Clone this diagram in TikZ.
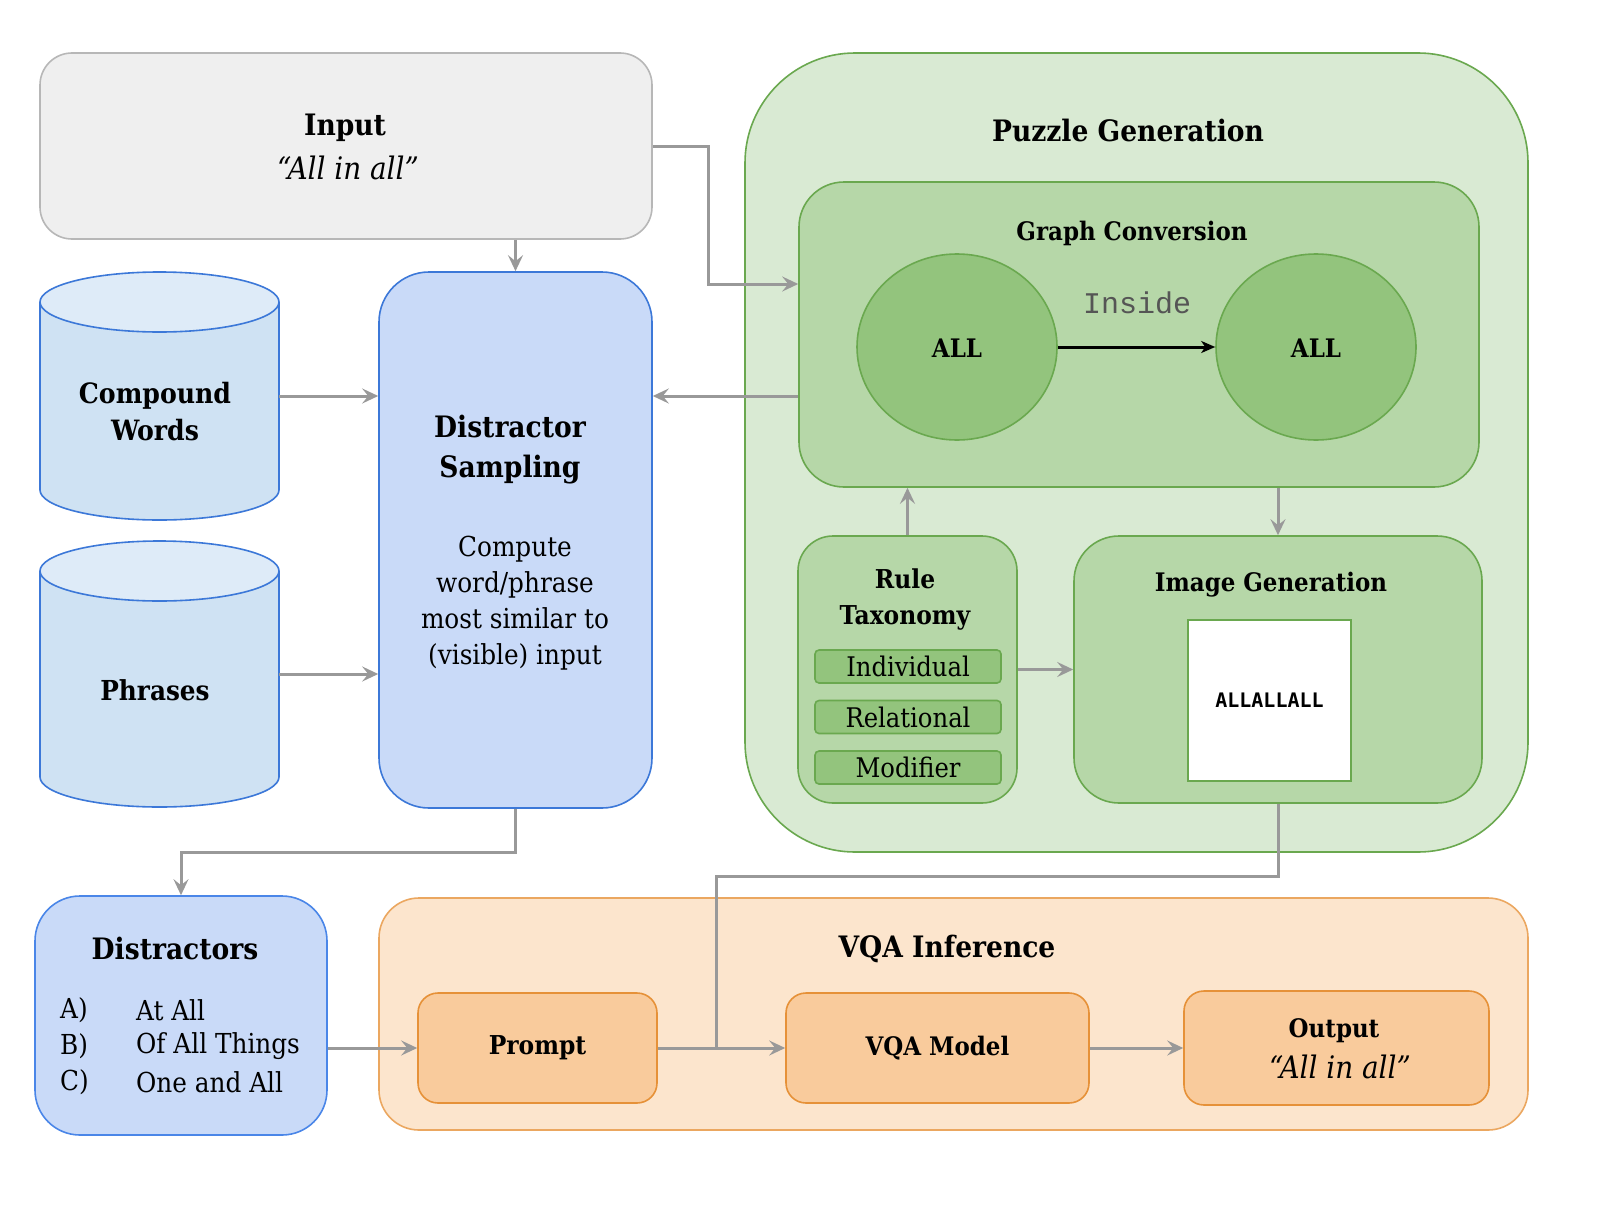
\documentclass[tikz,border=0pt]{standalone}
\usepackage{fontspec}
\setmainfont{DejaVu Serif Condensed}
\newfontfamily\monolight{Liberation Mono}
\newfontfamily\monobold{DejaVu Sans Mono}
\usetikzlibrary{arrows.meta,calc,shapes.geometric}
\definecolor{inputfill}{HTML}{EFEFEF}
\definecolor{inputline}{HTML}{B7B7B7}
\definecolor{cylbody}{HTML}{CFE2F3}
\definecolor{cyltop}{HTML}{DEEBF8}
\definecolor{blueline}{HTML}{3C78D8}
\definecolor{bluefill}{HTML}{C9DAF8}
\definecolor{distline}{HTML}{4A86E8}
\definecolor{pgfill}{HTML}{D9EAD3}
\definecolor{greenline}{HTML}{6AA84F}
\definecolor{gcfill}{HTML}{B6D7A8}
\definecolor{ellfill}{HTML}{93C47D}
\definecolor{vqafill}{HTML}{FCE5CD}
\definecolor{orangeline}{HTML}{E69138}
\definecolor{orangefill}{HTML}{F9CB9C}
\definecolor{arrowgray}{HTML}{999999}
\definecolor{insidegray}{HTML}{555555}
\tikzset{
  box/.style={draw, line width=1.6pt, inner sep=0pt},
  connector/.style={draw=arrowgray, line width=3pt},
  arr/.style={connector, -{Stealth[length=16pt,width=15pt,inset=6pt]}},
  bigtitle/.style={font=\fontsize{29.5}{40}\selectfont\bfseries, align=center, inner sep=0pt},
  midtitle/.style={font=\fontsize{25.5}{36}\selectfont\bfseries, align=center, inner sep=0pt},
  lbl/.style={font=\fontsize{25.5}{37}\selectfont\bfseries, align=center, inner sep=0pt},
  bodytext/.style={font=\fontsize{27.5}{36}\selectfont, align=center, inner sep=0pt},
  quote/.style={font=\fontsize{31}{36}\selectfont\itshape, inner sep=0pt},
  item/.style={box, draw=greenline, fill=ellfill, rounded corners=4pt, minimum width=186pt, minimum height=33pt, font=\fontsize{27}{30}\selectfont},
}
\begin{document}
\begin{tikzpicture}[x=1pt,y=1pt]
\useasboundingbox (0,0) rectangle (1608,-1207);
% Input
\node[box, draw=inputline, fill=inputfill, rounded corners=32pt, minimum width=612pt, minimum height=186pt] (input) at (346,-146) {};
\node[bigtitle] (inputt) at (345,-128) {Input};
\node[quote] (inputq) at (348,-168) {“All in all”};
% Cylinders
\node[minimum width=239pt, minimum height=248pt, inner sep=0pt] (cw) at (159.5,-396) {};
\fill[cylbody] (40,-302) rectangle (279,-490);
\fill[cylbody] (159.5,-490) ellipse [x radius=119.5pt, y radius=30pt];
\draw[blueline, line width=1.6pt] (40,-302) -- (40,-490) arc[start angle=180, end angle=360, x radius=119.5pt, y radius=30pt] -- (279,-302);
\draw[blueline, line width=1.6pt, fill=cyltop] (159.5,-302) ellipse [x radius=119.5pt, y radius=30pt];
\node[lbl, font=\fontsize{28}{37}\selectfont\bfseries] (cwt) at (155,-412) {Compound\\Words};
\node[minimum width=239pt, minimum height=266pt, inner sep=0pt] (ph) at (159.5,-674) {};
\fill[cylbody] (40,-571) rectangle (279,-777);
\fill[cylbody] (159.5,-777) ellipse [x radius=119.5pt, y radius=30pt];
\draw[blueline, line width=1.6pt] (40,-571) -- (40,-777) arc[start angle=180, end angle=360, x radius=119.5pt, y radius=30pt] -- (279,-571);
\draw[blueline, line width=1.6pt, fill=cyltop] (159.5,-571) ellipse [x radius=119.5pt, y radius=30pt];
\node[lbl, font=\fontsize{27.5}{37}\selectfont\bfseries] (pht) at (155,-690) {Phrases};
% Distractor Sampling
\node[box, draw=blueline, fill=bluefill, rounded corners=50pt, minimum width=273pt, minimum height=536pt] (ds) at (515.5,-540) {};
\node[bigtitle] (dst) at (510,-450) {Distractor\\Sampling};
\node[bodytext] (dsb) at (515,-603) {Compute\\word/phrase\\most similar to\\(visible) input};
% Puzzle Generation
\node[box, draw=greenline, fill=pgfill, rounded corners=110pt, minimum width=783pt, minimum height=799pt] (pg) at (1136.5,-452.5) {};
\node[bigtitle] (pgt) at (1128,-131) {Puzzle Generation};
\node[box, draw=greenline, fill=gcfill, rounded corners=45pt, minimum width=680pt, minimum height=305pt] (gc) at (1139,-334.5) {};
\node[midtitle] (gct) at (1132,-233) {Graph Conversion};
\node[box, ellipse, draw=greenline, fill=ellfill, minimum width=200pt, minimum height=186pt] (e1) at (957,-347) {};
\node[box, ellipse, draw=greenline, fill=ellfill, minimum width=200pt, minimum height=186pt] (e2) at (1316,-347) {};
\node[lbl] (e1t) at (957,-348) {ALL};
\node[lbl] (e2t) at (1316,-348) {ALL};
\draw[line width=3pt, -{Stealth[length=14pt,width=12pt,inset=4pt]}] (e1) -- (e2);
\node[font=\fontsize{30}{32}\selectfont\monolight, text=insidegray, inner sep=0pt] (inside) at (1137,-303) {Inside};
% Rule Taxonomy
\node[box, draw=greenline, fill=gcfill, rounded corners=35pt, minimum width=219pt, minimum height=267pt] (rt) at (907.5,-669.5) {};
\node[midtitle, font=\fontsize{26}{36}\selectfont\bfseries] (rtt) at (905,-600) {Rule\\Taxonomy};
\node[item] (ind) at (908,-666.5) {Individual};
\node[item] (rel) at (908,-717) {Relational};
\node[item] (mod) at (908,-767.5) {Modifier};
% Image Generation
\node[box, draw=greenline, fill=gcfill, rounded corners=45pt, minimum width=408pt, minimum height=267pt] (ig) at (1278,-669.5) {};
\node[midtitle] (igt) at (1271,-585) {Image Generation};
\node[box, draw=greenline, fill=white, minimum width=163pt, minimum height=161pt, font=\fontsize{20}{22}\selectfont\monobold\bfseries] (img) at (1269.5,-700.5) {ALLALLALL};
% Distractors
\node[box, draw=distline, fill=bluefill, rounded corners=45pt, minimum width=292pt, minimum height=239pt] (dist) at (181,-1015.5) {};
\node[bigtitle] (distt) at (175,-948) {Distractors};
\node[bodytext, anchor=west] (la) at (60,-1010) {A)};
\node[bodytext, anchor=west] (lb) at (60,-1046) {B)};
\node[bodytext, anchor=west] (lc) at (60,-1082) {C)};
\node[bodytext, anchor=west] (ta) at (136,-1010) {At All};
\node[bodytext, anchor=west] (tb) at (136,-1046) {Of All Things};
\node[bodytext, anchor=west] (tc) at (136,-1082) {One and All};
% VQA Inference
\node[box, draw=orangeline!80, fill=vqafill, rounded corners=40pt, minimum width=1149pt, minimum height=232pt] (vqa) at (953.5,-1014) {};
\node[bigtitle] (vqat) at (947,-949) {VQA Inference};
\node[box, draw=orangeline, fill=orangefill, rounded corners=20pt, minimum width=239pt, minimum height=110pt, lbl, font=\fontsize{26}{36}\selectfont\bfseries] (prompt) at (537.5,-1048) {Prompt};
\node[box, draw=orangeline, fill=orangefill, rounded corners=20pt, minimum width=303pt, minimum height=110pt, lbl] (vqam) at (937.5,-1048) {VQA Model};
\node[box, draw=orangeline, fill=orangefill, rounded corners=20pt, minimum width=305pt, minimum height=114pt] (out) at (1336.5,-1048) {};
\node[lbl] (outt) at (1334,-1031) {Output};
\node[quote] (outq) at (1340,-1067) {“All in all”};
% Connectors
\coordinate (join) at (716,-1048);
\draw[arr] (input.east) -- ++(56,0) |- ([yshift=50.5pt]gc.west);
\draw[arr] (ds.north |- input.south) -- (ds.north);
\draw[arr] (cw.east) -- (cw.east -| ds.west);
\draw[arr] (ph.east) -- (ph.east -| ds.west);
\draw[arr] ([yshift=-61.5pt]gc.west) -- ([yshift=-61.5pt]gc.west -| ds.east);
\draw[arr] (rt.north) -- (rt.north |- gc.south);
\draw[arr] (ig.north |- gc.south) -- (ig.north);
\draw[arr] (rt.east) -- (rt.east -| ig.west);
\draw[connector] (ig.south) -- ++(0,-73) -| (join);
\draw[arr] (ds.south) -- ++(0,-44) -| (dist.north);
\draw[arr] (prompt.west -| dist.east) -- (prompt.west);
\draw[arr] (prompt.east) -- (vqam.west);
\draw[arr] (vqam.east) -- (out.west);
\end{tikzpicture}
\end{document}
